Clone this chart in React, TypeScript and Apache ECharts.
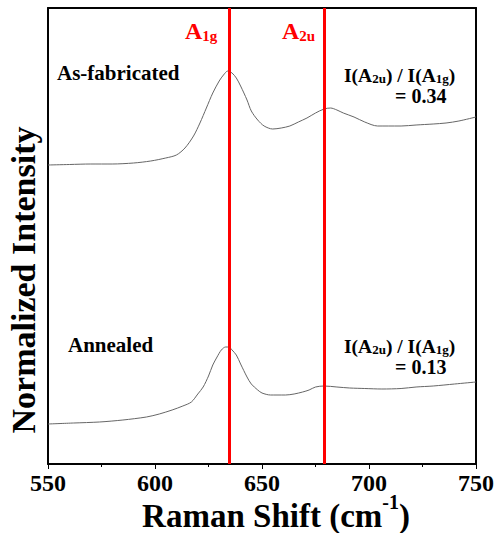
import React, { useEffect, useRef } from "react";
import * as echarts from "echarts";

const X_TICKS = [550, 600, 650, 700, 750];

const shiftAsFab = [550, 560, 570, 580, 590, 598, 605, 610, 614, 618, 621, 624, 627, 630, 632, 634, 636, 638, 640, 643, 645, 648, 651, 655, 659, 663, 667, 671, 675, 679, 682, 685, 688, 693, 698, 704, 709, 715, 722, 730, 736, 742, 750];
const intensityAsFab = [299, 299.5, 300, 300, 301, 303, 306, 309, 316, 328, 341, 356, 371, 383, 389, 393, 391, 386, 378, 364, 353, 344, 338, 335, 336, 338, 342, 346, 351, 355, 356, 354, 351, 347, 342, 338, 338, 338, 339, 340, 341, 343, 347];

const shiftAnnealed = [550, 562, 574, 585, 596, 602, 608, 613, 617, 620, 622.5, 625, 627, 629, 631, 633, 634.5, 636, 638, 640, 643, 645, 648, 650, 654, 657, 661, 665, 669, 672, 675, 679, 685, 691, 698, 706, 715, 722, 730, 740, 750];
const intensityAnnealed = [40, 41, 42, 44, 47, 50, 54, 58, 62, 70, 77, 88, 99, 107, 114, 117, 117, 114, 109, 100, 87, 80, 74, 71, 69, 69, 69, 70, 72, 74, 77, 78, 77, 76, 75.5, 75, 75.5, 77, 78, 80, 82];

const modePositions = [634.5, 679];

const FONT = "'Times New Roman', 'Liberation Serif', serif";

function pairs(xs: number[], ys: number[]) {
  return xs.map((x, i) => [x, ys[i]]);
}

export default function App() {
  const ref = useRef<HTMLDivElement>(null);
  useEffect(() => {
    if (!ref.current) return;
    const chart = echarts.init(ref.current, null, { renderer: "svg" });
    const tok = (size: number, color: string) => ({
      fontSize: size,
      fontWeight: "bold",
      fontFamily: FONT,
      fill: color,
      verticalAlign: "bottom",
    });
    const ratioRich = {
      m: tok(19.5, "#000"),
      s: tok(13, "#000"),
    };
    const modeRich = {
      m: tok(24, "#ff0000"),
      s: tok(15, "#ff0000"),
    };
    const frameLine = () => ({ show: true, onZero: false, lineStyle: { color: "#000", width: 1.5 } });
    chart.setOption({
      animation: false,
      grid: {
        left: 48,
        right: 18,
        top: 8,
        bottom: 69,
        containLabel: false,
        outerBoundsMode: "none",
        show: true,
        borderColor: "#000",
        borderWidth: 1.5,
        backgroundColor: "transparent",
      },
      xAxis: [
        {
          type: "value",
          min: 550,
          max: 750,
          interval: 50,
          axisLine: frameLine(),
          axisTick: { show: true, inside: false, length: 5, lineStyle: { color: "#000", width: 1 } },
          minorTick: { show: true, splitNumber: 2, length: 3, lineStyle: { color: "#000", width: 1 } },
          splitLine: { show: false },
          axisLabel: {
            fontSize: 24,
            fontWeight: "bold",
            fontFamily: FONT,
            color: "#000",
            margin: 7,
            formatter: (v: number) => (X_TICKS.includes(v) ? String(v) : ""),
          },
          name: "{m|Raman Shift (cm}{sup|-1}{m|)}",
          nameLocation: "middle",
          nameGap: 28,
          nameMoveOverlap: false,
          nameTextStyle: {
            padding: [0, 0, 0, 28],
            rich: {
              m: { fontSize: 33, fontWeight: "bold", fontFamily: FONT, color: "#000", verticalAlign: "bottom", lineHeight: 40 },
              sup: { fontSize: 20, fontWeight: "bold", fontFamily: FONT, color: "#000", verticalAlign: "top", lineHeight: 20 },
            },
          },
        },
        {
          type: "value",
          position: "top",
          min: 550,
          max: 750,
          interval: 50,
          axisLine: frameLine(),
          axisTick: { show: false },
          axisLabel: { show: false },
          splitLine: { show: false },
        },
      ],
      yAxis: [
        {
          type: "value",
          min: 0,
          max: 456,
          axisLine: frameLine(),
          axisTick: { show: false },
          axisLabel: { show: false },
          splitLine: { show: false },
          name: "Normalized Intensity",
          nameLocation: "middle",
          nameRotate: 90,
          nameGap: 8,
          nameMoveOverlap: false,
          nameTextStyle: {
            fontSize: 34,
            fontWeight: "bold",
            fontFamily: FONT,
            color: "#000",
            padding: [0, 88, 0, 0],
          },
        },
        {
          type: "value",
          position: "right",
          min: 0,
          max: 456,
          axisLine: frameLine(),
          axisTick: { show: false },
          axisLabel: { show: false },
          splitLine: { show: false },
        },
      ],
      series: [
        {
          name: "As-fabricated",
          type: "line",
          data: pairs(shiftAsFab, intensityAsFab),
          showSymbol: false,
          smooth: 0.3,
          lineStyle: { color: "#666", width: 1 },
          markLine: {
            silent: true,
            symbol: "none",
            label: { show: false },
            lineStyle: { color: "#ff0000", width: 3, type: "solid" },
            data: modePositions.map((v) => ({ xAxis: v })),
          },
        },
        {
          name: "Annealed",
          type: "line",
          data: pairs(shiftAnnealed, intensityAnnealed),
          showSymbol: false,
          smooth: 0.3,
          lineStyle: { color: "#666", width: 1 },
        },
      ],
      graphic: [
        {
          type: "rect",
          z: 0,
          silent: true,
          shape: { x: 48, y: 8, width: 428, height: 456 },
          style: { fill: "none", stroke: "#000", lineWidth: 1.5 },
        },
        {
          type: "text",
          x: 185,
          y: 31,
          style: { text: "{m|A}{s|1g}", rich: modeRich, verticalAlign: "middle" },
        },
        {
          type: "text",
          x: 282,
          y: 31,
          style: { text: "{m|A}{s|2u}", rich: modeRich, verticalAlign: "middle" },
        },
        {
          type: "text",
          x: 57,
          y: 73,
          style: { text: "As-fabricated", fontSize: 21, fontWeight: "bold", fontFamily: FONT, fill: "#000", verticalAlign: "middle" },
        },
        {
          type: "text",
          x: 68,
          y: 345,
          style: { text: "Annealed", fontSize: 21, fontWeight: "bold", fontFamily: FONT, fill: "#000", verticalAlign: "middle" },
        },
        {
          type: "text",
          x: 344,
          y: 75,
          style: { text: "{m|I(A}{s|2u}{m|) / I(A}{s|1g}{m|)}", rich: ratioRich, verticalAlign: "middle" },
        },
        {
          type: "text",
          x: 395,
          y: 96,
          style: { text: "= 0.34", fontSize: 20, fontWeight: "bold", fontFamily: FONT, fill: "#000", verticalAlign: "middle" },
        },
        {
          type: "text",
          x: 344,
          y: 346,
          style: { text: "{m|I(A}{s|2u}{m|) / I(A}{s|1g}{m|)}", rich: ratioRich, verticalAlign: "middle" },
        },
        {
          type: "text",
          x: 395,
          y: 367,
          style: { text: "= 0.13", fontSize: 20, fontWeight: "bold", fontFamily: FONT, fill: "#000", verticalAlign: "middle" },
        },
      ],
    });
    return () => chart.dispose();
  }, []);
  return (
    <div
      ref={ref}
      style={{ position: "fixed", left: 0, top: 0, width: 494, height: 533, background: "#fff" }}
    />
  );
}
